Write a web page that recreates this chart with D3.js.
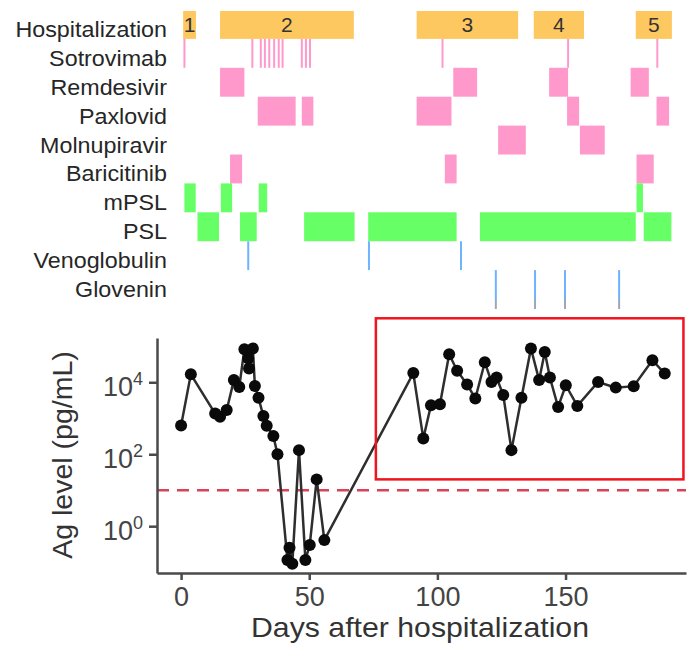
<!DOCTYPE html>
<html>
<head>
<meta charset="utf-8">
<script src="https://cdn.jsdelivr.net/npm/d3@7"></script>
<style>
  html, body { margin: 0; padding: 0; background: #fff; }
  svg { display: block; font-family: "Liberation Sans", Arial, Helvetica, sans-serif; }
</style>
</head>
<body>
<svg id="chart" width="692" height="649"></svg>
<script>
// ---- Treatment timeline (days after hospitalization) ----
const rowNames = ["Hospitalization", "Sotrovimab", "Remdesivir", "Paxlovid", "Molnupiravir",
                  "Baricitinib", "mPSL", "PSL", "Venoglobulin", "Glovenin"];

const hospitalStays = [
  { label: "1", start: 0.8,  end: 5.8 },
  { label: "2", start: 15.2, end: 67.4 },
  { label: "3", start: 91.9, end: 131.5 },
  { label: "4", start: 137.6, end: 157.2 },
  { label: "5", start: 177.4, end: 191.5 }
];

const sotrovimabDays = [1.3, 27.8, 31.1, 32.7, 34.4, 36.3, 38.1, 39.6, 47.1, 48.7, 50.3, 102.0, 151.0, 185.8];

const remdesivirCourses   = [[15.2, 24.7], [106.2, 115.5], [143.6, 151.0], [175.4, 182.5]];
const paxlovidCourses     = [[29.9, 44.7], [47.1, 51.6], [91.9, 105.5], [150.6, 155.3], [185.5, 190.4]];
const molnupiravirCourses = [[123.7, 134.5], [155.6, 165.3]];
const baricitinibCourses  = [[19.1, 23.8], [102.9, 107.5], [177.7, 184.4]];
const mpslCourses         = [[1.3, 5.7], [15.5, 19.9], [30.3, 33.6], [177.7, 180.2]];
const pslCourses          = [[6.4, 14.8], [23.0, 29.5], [48.0, 67.7], [73.0, 107.5], [116.6, 177.4], [180.5, 191.3]];

const venoglobulinDays = [26.2, 73.3, 109.2];
const gloveninDays     = [122.8, 138.1, 149.8, 170.9];

// ---- Antigen level (pg/mL) ----
const agDays = [0, 3.8, 13.3, 15.2, 17.8, 20.6, 22.7, 24.7, 26.2, 26.5, 28.0, 28.8, 30.2, 32.1, 33.4,
                36.0, 37.6, 41.5, 42.3, 43.4, 46.0, 48.5, 50.2, 52.9, 55.9,
                90.6, 94.5, 97.5, 101.0, 104.6, 107.7, 111.6, 114.8, 118.5, 121.1, 123.1, 125.7,
                128.9, 132.8, 136.5, 139.7, 141.9, 143.9, 147.1, 150.1, 154.6, 162.7, 169.6,
                176.6, 183.9, 188.7];
const agLevels = [630, 16600, 1350, 1100, 1700, 11500, 7400, 83000, 46000, 24000, 87000, 7900, 3700, 1150, 620,
                  320, 100, 0.115, 0.25, 0.091, 130, 0.115, 0.30, 20, 0.41,
                  18000, 275, 2300, 2450, 60000, 21000, 8700, 3550, 36000, 10200, 13500, 4400,
                  130, 3700, 87000, 11500, 69000, 13500, 2050, 8300, 2200, 10200, 7100,
                  7800, 41000, 17400];

const detectionLimit = 10;           // pg/mL, dashed reference line
const highlightDays   = [76, 196];   // boxed late phase
const highlightLevels = [20, 6e5];

const xTicks = [0, 50, 100, 150];
const yTicks = [1, 100, 10000];
const yTickExponents = ["0", "2", "4"];

// ---- Colours ----
const cHosp = "#FEC860", cPink = "#FF99CC", cGreen = "#66FF66", cBlue = "#6DB3FF";
const cText = "#262626", cAxis = "#4a4a4a";

const svg = d3.select("#chart");

// shared day scale
const x = d3.scaleLinear().domain([-9.4, 197]).range([157, 686]);

// timeline rows
const row = d3.scaleBand().domain(rowNames).range([10, 299]).padding(0);

const timeline = svg.append("g");

// row labels
timeline.selectAll("text.rowlab")
  .data(rowNames)
  .join("text")
  .attr("class", "rowlab")
  .attr("transform", d => `translate(167,${row(d) + row.bandwidth() / 2 + 12.5}) scale(1.06,1)`)
  .attr("text-anchor", "end")
  .attr("font-size", 22)
  .attr("fill", cText)
  .text(d => d);

// hospitalization bars
timeline.selectAll("rect.hosp")
  .data(hospitalStays)
  .join("rect")
  .attr("class", "hosp")
  .attr("x", d => x(d.start))
  .attr("width", d => x(d.end) - x(d.start))
  .attr("y", row("Hospitalization") + 1)
  .attr("height", row.bandwidth() - 1)
  .attr("fill", cHosp);

timeline.selectAll("text.hosp")
  .data(hospitalStays)
  .join("text")
  .attr("class", "hosp")
  .attr("x", d => (x(d.start) + x(d.end)) / 2)
  .attr("y", row("Hospitalization") + row.bandwidth() / 2 + 8)
  .attr("text-anchor", "middle")
  .attr("font-size", 21)
  .attr("fill", "#333")
  .text(d => d.label);

// course blocks
function courses(name, data, color) {
  timeline.append("g").selectAll("rect")
    .data(data)
    .join("rect")
    .attr("x", d => x(d[0]))
    .attr("width", d => x(d[1]) - x(d[0]))
    .attr("y", row(name))
    .attr("height", row.bandwidth())
    .attr("fill", color);
}
courses("Remdesivir", remdesivirCourses, cPink);
courses("Paxlovid", paxlovidCourses, cPink);
courses("Molnupiravir", molnupiravirCourses, cPink);
courses("Baricitinib", baricitinibCourses, cPink);
courses("mPSL", mpslCourses, cGreen);
courses("PSL", pslCourses, cGreen);

// single-dose ticks
function doses(name, days, color) {
  timeline.append("g").selectAll("line")
    .data(days)
    .join("line")
    .attr("x1", d => x(d)).attr("x2", d => x(d))
    .attr("y1", row(name)).attr("y2", row(name) + row.bandwidth())
    .attr("stroke", color)
    .attr("stroke-width", 2);
}
doses("Sotrovimab", sotrovimabDays, cPink);
doses("Venoglobulin", venoglobulinDays, cBlue);
doses("Glovenin", gloveninDays, cBlue);

// faint continuation under the Glovenin ticks
timeline.append("g").selectAll("line")
  .data(gloveninDays)
  .join("line")
  .attr("x1", d => x(d)).attr("x2", d => x(d))
  .attr("y1", row("Glovenin") + row.bandwidth()).attr("y2", row("Glovenin") + row.bandwidth() + 10)
  .attr("stroke", "#9aa8bb")
  .attr("stroke-width", 2);

// ---- Bottom panel: antigen level ----
const y = d3.scaleLog().domain([0.05, 1.7e5]).range([573, 338]);

const panel = svg.append("g");

// detection limit
panel.append("line")
  .attr("x1", x.range()[0]).attr("x2", x.range()[1])
  .attr("y1", y(detectionLimit)).attr("y2", y(detectionLimit))
  .attr("stroke", "#D9435A")
  .attr("stroke-width", 2.5)
  .attr("stroke-dasharray", "12,8");

// x axis
const xAxis = panel.append("g")
  .attr("transform", `translate(0,${y.range()[0]})`)
  .call(d3.axisBottom(x).tickValues(xTicks).tickSize(7).tickSizeOuter(0).tickPadding(7).tickFormat(d3.format("d")));
xAxis.select(".domain").attr("stroke", cAxis).attr("stroke-width", 2.5);
xAxis.selectAll(".tick line").attr("stroke", cAxis).attr("stroke-width", 2.5);
xAxis.selectAll(".tick text")
  .attr("font-size", 27)
  .attr("font-family", "Liberation Sans, Arial, sans-serif")
  .attr("fill", "#444");

// y axis with power-of-ten labels
const yAxis = panel.append("g")
  .attr("transform", `translate(${x.range()[0]},0)`)
  .call(d3.axisLeft(y).tickValues(yTicks).tickSize(8).tickSizeOuter(0).tickPadding(6).tickFormat(() => ""));
yAxis.select(".domain").attr("stroke", cAxis).attr("stroke-width", 2.5);
yAxis.selectAll(".tick line").attr("stroke", cAxis).attr("stroke-width", 2.5);
yAxis.selectAll(".tick text")
  .attr("font-family", "Liberation Sans, Arial, sans-serif")
  .attr("fill", "#444")
  .attr("dy", null)
  .attr("y", 13.5)
  .each(function (d, i) {
    const t = d3.select(this);
    t.append("tspan").attr("font-size", 27).text("10");
    t.append("tspan").attr("font-size", 18).attr("dy", -11).text(yTickExponents[i]);
  });

// axis titles
panel.append("text")
  .attr("x", 420)
  .attr("y", 637)
  .attr("text-anchor", "middle")
  .attr("font-size", 28)
  .attr("textLength", 338)
  .attr("lengthAdjust", "spacingAndGlyphs")
  .attr("fill", "#333")
  .text("Days after hospitalization");

panel.append("text")
  .attr("transform", "translate(72,455) rotate(-90)")
  .attr("text-anchor", "middle")
  .attr("font-size", 28.5)
  .attr("fill", "#333")
  .text("Ag level (pg/mL)");

// series
const pts = agDays.map((d, i) => ({ day: d, level: agLevels[i] }));

panel.append("path")
  .datum(pts)
  .attr("fill", "none")
  .attr("stroke", "#2e2e2e")
  .attr("stroke-width", 2.5)
  .attr("d", d3.line().x(d => x(d.day)).y(d => y(d.level)));

panel.selectAll("circle")
  .data(pts)
  .join("circle")
  .attr("cx", d => x(d.day))
  .attr("cy", d => y(d.level))
  .attr("r", 6)
  .attr("fill", "#0a0a0a");

// highlight box
panel.append("rect")
  .attr("x", x(highlightDays[0]))
  .attr("y", y(highlightLevels[1]))
  .attr("width", x(highlightDays[1]) - x(highlightDays[0]))
  .attr("height", y(highlightLevels[0]) - y(highlightLevels[1]))
  .attr("fill", "none")
  .attr("stroke", "#F0141E")
  .attr("stroke-width", 2.5);
</script>
</body>
</html>
